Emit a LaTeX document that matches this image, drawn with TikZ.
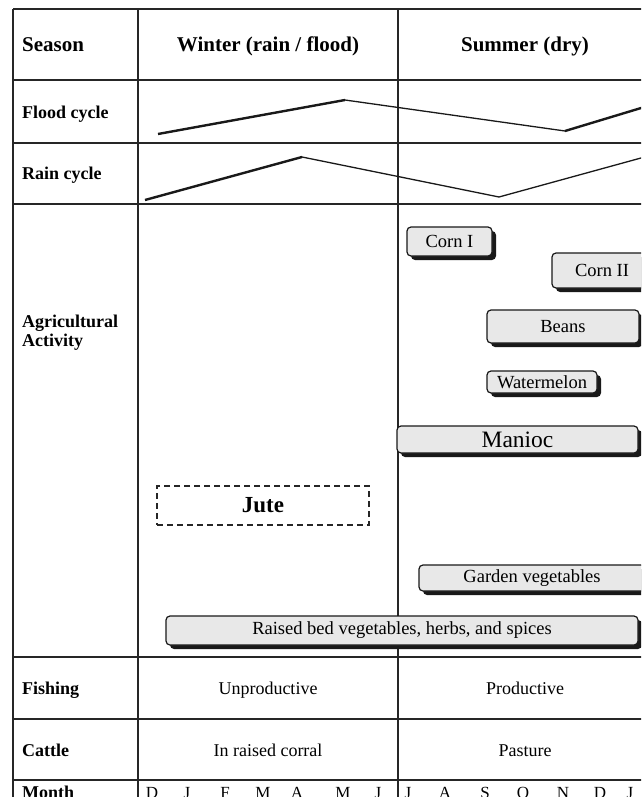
\documentclass[tikz,border=0pt]{standalone}
\usepackage{fontspec}
\setmainfont{Liberation Serif}
\usetikzlibrary{shadows, positioning}

\begin{document}
\begin{tikzpicture}[
        x=1pt, y=-1pt,
        grid/.style={
            draw=black!85, line width=1.5pt
        },
        header/.style={
            inner sep=0pt, anchor=base, font=\fontsize{21}{24}\selectfont\bfseries
        },
        rowlabel/.style={
            inner sep=0pt, anchor=base west, font=\fontsize{18}{19}\selectfont\bfseries
        },
        entry/.style={
            inner sep=0pt, anchor=base, font=\fontsize{18}{20}\selectfont
        },
        crop/.style={
            rectangle, rounded corners=4pt, draw=black!90, line width=1.2pt, fill=gray!18,
            inner sep=0pt, font=\fontsize{18.5}{20}\selectfont,
            drop shadow={shadow xshift=4pt, shadow yshift=-4pt, fill=black!90, opacity=1}
        },
        rise/.style={
            line width=2.4pt, draw=black!90
        },
        fall/.style={
            line width=1.3pt, draw=black!90
        },
        monthlabel/.style={
            inner sep=0pt, anchor=base, font=\fontsize{17}{18}\selectfont
        }
    ]
        \useasboundingbox (0,0) rectangle (641,797);
        \clip (0,0) rectangle (641,797);

        % ----------------------------------------------------
        % TABLE GRID
        % ----------------------------------------------------
        \foreach \ypos in {9, 80, 143, 204, 657, 719, 780} {
            \draw[grid] (13,\ypos) -- (653,\ypos);
        }
        \foreach \xpos in {13, 138, 398, 653} {
            \draw[grid] (\xpos,9) -- (\xpos,815);
        }

        % ----------------------------------------------------
        % HEADER AND ROW LABELS
        % ----------------------------------------------------
        \node[rowlabel, font=\fontsize{21}{24}\selectfont\bfseries] (season) at (22,51.5) {Season};
        \node[header] (winter) at (268,51.5) {Winter (rain / flood)};
        \node[header] (summer) at (525,51.5) {Summer (dry)};

        \node[rowlabel] (flood) at (22,118) {Flood cycle};
        \node[rowlabel] (rain) at (22,179) {Rain cycle};
        \node[rowlabel, anchor=north west, align=left] (agri) at (22,314.5) {Agricultural\\Activity};
        \node[rowlabel] (fishing) at (22,694) {Fishing};
        \node[rowlabel] (cattle) at (22,756) {Cattle};
        \node[rowlabel] (month) at (22,798) {Month};

        % ----------------------------------------------------
        % FLOOD AND RAIN CYCLES
        % ----------------------------------------------------
        \coordinate (f1) at (158,134);
        \coordinate (f2) at (345,100);
        \coordinate (f3) at (565,131);
        \coordinate (f4) at (653,104.4);
        \draw[rise] (f1) -- (f2);
        \draw[fall] (f2) -- (f3);
        \draw[rise] (f3) -- (f4);

        \coordinate (r1) at (145,200);
        \coordinate (r2) at (302,157);
        \coordinate (r3) at (499,197);
        \coordinate (r4) at (653,154.7);
        \draw[rise] (r1) -- (r2);
        \draw[fall] (r2) -- (r3);
        \draw[fall] (r3) -- (r4);

        % ----------------------------------------------------
        % AGRICULTURAL ACTIVITY
        % ----------------------------------------------------
        \node[crop, minimum width=85pt, minimum height=29pt] (cornI) at (449.5,241.5) {Corn I};
        \node[crop, minimum width=100pt, minimum height=35pt] (cornII) at (602,270.5) {Corn II};
        \node[crop, minimum width=152pt, minimum height=33pt] (beans) at (563,326.5) {Beans};
        \node[crop, minimum width=110pt, minimum height=22pt] (melon) at (542,382) {Watermelon};
        \node[crop, minimum width=241pt, minimum height=27pt, font=\fontsize{23.5}{26}\selectfont] (manioc) at (517.5,439.5) {Manioc};
        \node[draw=black!85, line width=1.3pt, dash pattern=on 6pt off 4pt,
              minimum width=212pt, minimum height=39pt, inner sep=0pt,
              font=\fontsize{23}{26}\selectfont\bfseries] (jute) at (263,505.5) {Jute};
        \node[crop, minimum width=226pt, minimum height=26pt] (garden) at (532,578) {Garden vegetables};
        \node[crop, minimum width=472pt, minimum height=29pt] (raised) at (402,630.5) {Raised bed vegetables, herbs, and spices};

        % ----------------------------------------------------
        % FISHING, CATTLE AND MONTHS
        % ----------------------------------------------------
        \node[entry] (unprod) at (268,694) {Unproductive};
        \node[entry] (prod) at (525,694) {Productive};
        \node[entry] (corral) at (268,756) {In raised corral};
        \node[entry] (pasture) at (525,756) {Pasture};

        \foreach \m/\xpos [count=\i] in {D/152, J/187, F/225, M/263, A/297, M/343, J/378,
                                         J/408, A/445, S/485, O/523, N/563, D/600, J/630} {
            \node[monthlabel] (m\i) at (\xpos,798) {\m};
        }

    \end{tikzpicture}
\end{document}
